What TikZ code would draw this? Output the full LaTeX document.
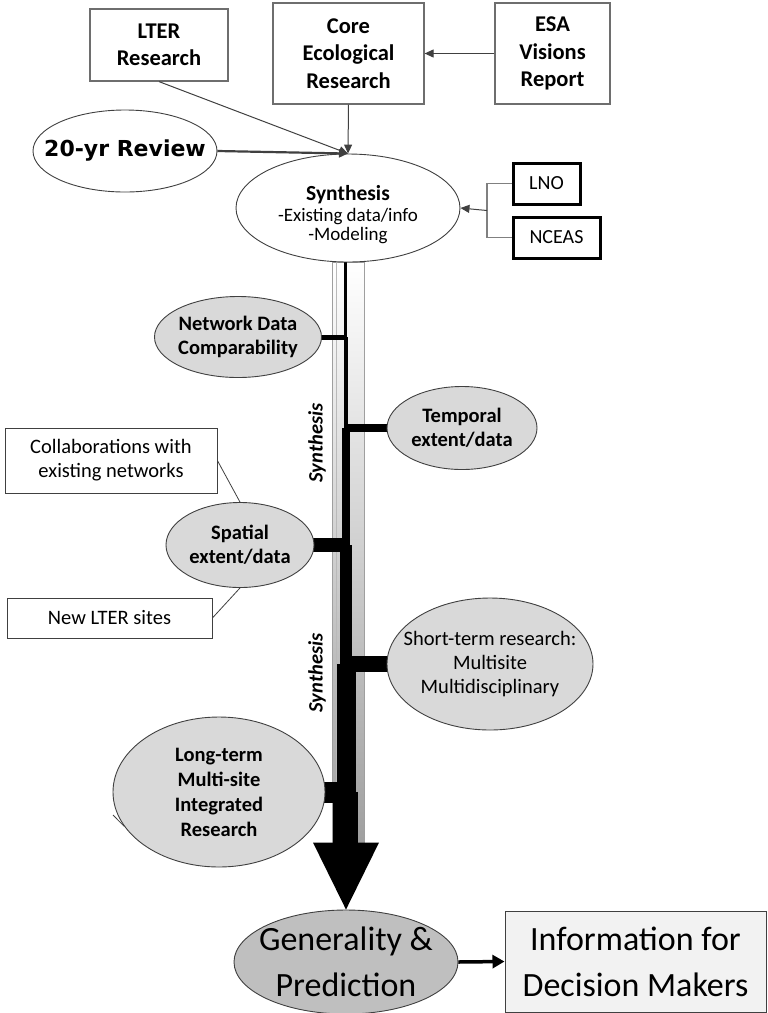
\documentclass[tikz,border=0pt]{standalone}
\usepackage{fontspec}
\setmainfont{Carlito}
\newfontfamily\reviewfont{DejaVu Sans}
\usetikzlibrary{arrows.meta,positioning,shapes.geometric,backgrounds}
\definecolor{edgegray}{RGB}{64,64,64}
\definecolor{boxgray}{RGB}{110,110,110}
\definecolor{bubblegray}{RGB}{217,217,217}
\definecolor{predgray}{RGB}{191,191,191}
\definecolor{infogray}{RGB}{242,242,242}

\tikzset{
  srcbox/.style={draw=boxgray, line width=1.2pt, fill=white, inner sep=0pt, align=center,
    font=\bfseries\fontsize{22.5}{27.5}\selectfont},
  grpbox/.style={draw=black, line width=3pt, fill=white, inner sep=0pt,
    font=\fontsize{20}{24}\selectfont},
  notebox/.style={draw=edgegray, line width=0.8pt, fill=white, inner sep=0pt, align=center,
    font=\fontsize{20.5}{24}\selectfont},
  bubble/.style={ellipse, draw=edgegray, line width=0.9pt, fill=bubblegray, inner sep=0pt},
  bubtxt/.style={align=center, font=\bfseries\fontsize{20.5}{24}\selectfont},
  plaintxt/.style={align=center, font=\fontsize{20.5}{24}\selectfont},
  bigtxt/.style={align=center, font=\fontsize{34}{46}\selectfont},
  flowtxt/.style={font=\bfseries\itshape\fontsize{20.5}{22}\selectfont},
  feed/.style={-{Triangle[length=9pt,width=8pt]}, line width=1pt, edgegray},
}

\begin{document}
\begin{tikzpicture}[x=1pt, y=-1pt]
\useasboundingbox (0,0) rectangle (768,1013);
% -- Sources feeding the synthesis --
\node[srcbox, minimum width=138pt, minimum height=72pt] (lter) at (159,45) {LTER\\Research};
\node[srcbox, minimum width=151pt, minimum height=101pt] (core) at (348.5,53.5) {Core\\Ecological\\Research};
\node[srcbox, minimum width=115pt, minimum height=101pt] (esa) at (552.5,53.5) {ESA\\Visions\\Report};
\node[bubble, fill=white, minimum width=184pt, minimum height=82pt,
  label={[font=\reviewfont\bfseries\fontsize{22}{24}\selectfont]center:{20-yr Review}}] (review) at (125,151) {};
\node[bubble, fill=white, minimum width=224pt, minimum height=108pt,
  label={[align=center, yshift=-7pt]center:{{\bfseries\fontsize{21.5}{24}\selectfont Synthesis}\\[3pt]
    {\fontsize{19}{22}\selectfont -Existing data/info}\\[2pt]{\fontsize{19}{22}\selectfont -Modeling}}}] (synth) at (348,208) {};
\draw[feed] (esa.west) -- (core.east);
\draw[feed] (core.south) -- (synth.north);
\draw[feed] (lter.south) -- (synth.north);
\draw[feed, line width=2.2pt] (review.east) -- (synth.north);
% -- Support groups --
\node[grpbox, minimum width=67pt, minimum height=41pt] (lno) at (546.5,183.5) {LNO};
\node[grpbox, minimum width=87pt, minimum height=41pt] (nceas) at (556.5,237.5) {NCEAS};
\coordinate (brk) at (487,210.5);
\draw[gray, line width=1.5pt] (lno.west) -| (brk) |- (nceas.west);
\draw[feed] (brk) -- (synth.east);
% -- Components along the trunk --
\node[bubble, minimum width=167pt, minimum height=81pt,
  label={[bubtxt]center:{Network Data\\Comparability}}] (net) at (238,337) {};
\node[bubble, minimum width=150pt, minimum height=83pt,
  label={[bubtxt]center:{Temporal\\extent/data}}] (temp) at (462,428) {};
\node[bubble, minimum width=148pt, minimum height=85pt,
  label={[bubtxt]center:{Spatial\\extent/data}}] (spat) at (240,545) {};
\node[bubble, minimum width=206pt, minimum height=132pt,
  label={[plaintxt]center:{Short-term research:\\Multisite\\Multidisciplinary}}] (short) at (490,664) {};
\node[bubble, minimum width=212pt, minimum height=150pt,
  label={[bubtxt, font=\bfseries\fontsize{20.5}{25}\selectfont]center:{Long-term\\Multi-site\\Integrated\\Research}}] (long) at (219,792) {};
\node[notebox, minimum width=212pt, minimum height=65pt] (collab) at (111,460.5) {Collaborations with\\existing networks};
\node[notebox, minimum width=205pt, minimum height=40pt] (newlter) at (109.5,618) {New LTER sites};
\coordinate (lttail) at (113,815);
\draw[edgegray, line width=0.8pt] (collab.east) -- (spat.north);
\draw[edgegray, line width=0.8pt] (newlter.east) -- (spat.south);
\draw[edgegray, line width=0.8pt] (long.200) -- (lttail);
\node[flowtxt, rotate=90] (flow1) at (317,443) {Synthesis};
\node[flowtxt, rotate=90] (flow2) at (317,673) {Synthesis};
% -- Outcome --
\node[bubble, fill=predgray, minimum width=224pt, minimum height=104pt,
  label={[bigtxt]center:{Generality \&\\Prediction}}] (gen) at (346,962) {};
\node[draw=edgegray, line width=1pt, fill=infogray, bigtxt, inner sep=0pt,
  minimum width=261pt, minimum height=101pt] (info) at (635.5,961.5) {Information for\\Decision Makers};
\draw[line width=3.5pt, -{Triangle[length=12pt,width=13pt]}] (gen.east) -- (info.west);
% -- Trunk: widening bar --
\begin{scope}[on background layer]
\coordinate (spine) at (346,262);
\shade[top color=white, bottom color=gray!75] (332,262) rectangle (364,843);
\draw[gray!75] (332,262) rectangle (364,843);
\draw[gray!55] (336,262) -- (336,843);
\fill (344,262) rectangle (347,337);
\fill (344,337) rectangle (348,428);
\fill (342,428) rectangle (350,545);
\fill (340,545) rectangle (352,664);
\fill (337,664) rectangle (356,792);
\fill (333,792) rectangle (358,843);
\draw[line width=5pt] (net.center) -- (net.center -| spine);
\draw[line width=8pt] (temp.center) -- (temp.center -| spine);
\draw[line width=14pt] (spat.center) -- (spat.center -| spine);
\draw[line width=16pt] (short.center) -- (short.center -| spine);
\draw[line width=21pt] (long.center) -- (long.center -| spine);
\end{scope}
\fill (gen.north) ++(-33,-67) -- ++(66,0) -- (gen.north) -- cycle;
\end{tikzpicture}
\end{document}
